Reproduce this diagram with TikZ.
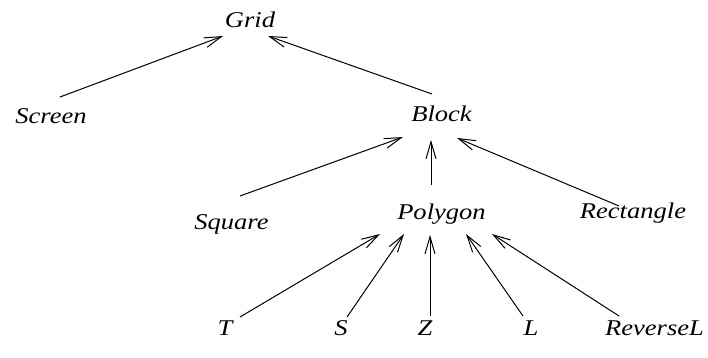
\documentclass[tikz,border=0pt]{standalone}
\usepackage{fontspec}
\setmainfont{Liberation Serif}
\usetikzlibrary{arrows.meta,calc}
\tikzset{
  cls/.style={anchor=base,inner sep=0pt,font=\fontsize{22.5}{27}\selectfont\itshape,xscale=1.18},
  inherit/.style={-{Straight Barb[length=17pt,width=10pt,line width=1pt]},line width=1pt},
}
\begin{document}
\begin{tikzpicture}[x=1pt,y=-1pt]
\useasboundingbox (0,0) rectangle (708,358);
% class names
\node[cls] (Grid) at (250,28) {Grid};
\node[cls] (Screen) at (51,124) {Screen};
\node[cls] (Block) at (441.5,122) {Block};
\node[cls] (Square) at (231.5,229) {Square};
\node[cls] (Polygon) at (441.5,219) {Polygon};
\node[cls] (Rectangle) at (633,218) {Rectangle};
\node[cls] (T) at (225,335) {T};
\node[cls] (S) at (341,335) {S};
\node[cls] (Z) at (425,335) {Z};
\node[cls] (L) at (531,335) {L};
\node[cls] (ReverseL) at (654.5,335) {ReverseL};
% inheritance arrows, subclass to superclass
\draw[inherit] ($(Screen.base)+(9,-27)$) -- ($(Grid.base)+(-27,8)$);
\draw[inherit] ($(Block.base)+(-9.5,-28)$) -- ($(Grid.base)+(18,8)$);
\draw[inherit] ($(Square.base)+(8.5,-33)$) -- ($(Block.base)+(-38.5,15)$);
\draw[inherit] ($(Polygon.base)+(-10.5,-34)$) -- ($(Block.base)+(-10.5,18)$);
\draw[inherit] ($(Rectangle.base)+(-14,-12)$) -- ($(Block.base)+(15.5,16)$);
\draw[inherit] ($(T.base)+(15,-18)$) -- ($(Polygon.base)+(-61.5,15)$);
\draw[inherit] ($(S.base)+(6,-18)$) -- ($(Polygon.base)+(-37.5,15)$);
\draw[inherit] ($(Z.base)+(5,-19)$) -- ($(Polygon.base)+(-11.5,16)$);
\draw[inherit] ($(L.base)+(-8,-19)$) -- ($(Polygon.base)+(24.5,15)$);
\draw[inherit] ($(ReverseL.base)+(-35.5,-19)$) -- ($(Polygon.base)+(50.5,15)$);
\end{tikzpicture}
\end{document}
